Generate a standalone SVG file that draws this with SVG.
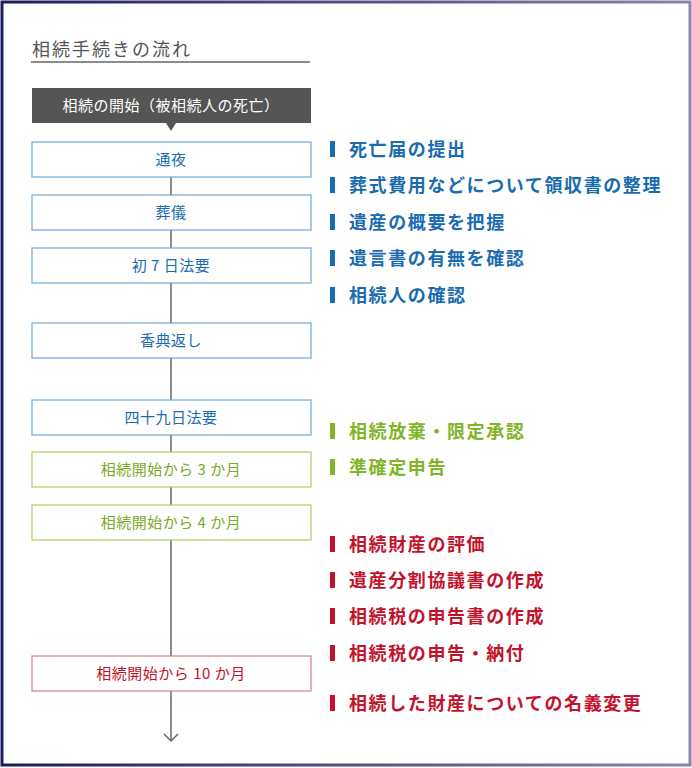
<svg xmlns="http://www.w3.org/2000/svg" width="692" height="768" viewBox="0 0 692 768">
<defs>
<linearGradient id="fr" x1="0" y1="0" x2="1" y2="0"><stop offset="0" stop-color="#1b1b5e"/><stop offset="1" stop-color="#8c83ab"/></linearGradient>
<style>
text{font-family:"Noto Sans CJK JP","Noto Sans",sans-serif;}
.bt{font-size:15px;text-anchor:middle;letter-spacing:0.5px;}
.b rect{fill:#fff;stroke-width:1.2;}
.bl rect{stroke:#6ea8dc}.bl text{fill:#1a6bb0}
.gr rect{stroke:#a9d05e}.gr text{fill:#7aaa26}
.rd rect{stroke:#e27a87}.rd text{fill:#c3122c}
.it{font-size:18px;font-weight:bold;letter-spacing:1.6px;}
.ib text{fill:#1a6bb0}.ib rect{fill:#1a6bb0}
.ig text{fill:#7fb526}.ig rect{fill:#7fb526}
.ir text{fill:#c3122c}.ir rect{fill:#c3122c}
</style>
</defs>
<rect x="0" y="0" width="692" height="768" fill="#fff"/>
<rect x="2" y="2" width="688" height="763" fill="none" stroke="url(#fr)" stroke-width="3"/>
<text x="32" y="56" font-size="18" letter-spacing="2" fill="#555">相続手続きの流れ</text>
<line x1="31" y1="62" x2="310" y2="62" stroke="#666" stroke-width="1.5"/>
<g id="connectors">
<line x1="171" y1="177" x2="171" y2="741" stroke="#666" stroke-width="1.5"/>
<polyline points="164,734 171,741 178,734" fill="none" stroke="#666" stroke-width="1.5"/>
</g>
<g id="start"><rect x="32" y="88" width="279" height="35" fill="#555"/><polygon points="166,123 176,123 171,131" fill="#555"/><text class="bt" x="171" y="111" fill="#fff">相続の開始（被相続人の死亡）</text></g>
<g id="n1" class="b bl"><rect x="32" y="142" width="279" height="35"/><text class="bt" x="171" y="165">通夜</text></g>
<g id="n2" class="b bl"><rect x="32" y="195" width="279" height="35"/><text class="bt" x="171" y="218">葬儀</text></g>
<g id="n3" class="b bl"><rect x="32" y="248" width="279" height="35"/><text class="bt" x="171" y="271">初 7 日法要</text></g>
<g id="n4" class="b bl"><rect x="32" y="323" width="279" height="35"/><text class="bt" x="171" y="346">香典返し</text></g>
<g id="n5" class="b bl"><rect x="32" y="400" width="279" height="35"/><text class="bt" x="171" y="423">四十九日法要</text></g>
<g id="n6" class="b gr"><rect x="32" y="452" width="279" height="35"/><text class="bt" x="171" y="475">相続開始から 3 か月</text></g>
<g id="n7" class="b gr"><rect x="32" y="505" width="279" height="35"/><text class="bt" x="171" y="528">相続開始から 4 か月</text></g>
<g id="n8" class="b rd"><rect x="32" y="656" width="279" height="35"/><text class="bt" x="171" y="679">相続開始から 10 か月</text></g>
<g id="items-blue" class="ib">
<rect x="330" y="141" width="5" height="16"/><text class="it" x="349" y="156">死亡届の提出</text>
<rect x="330" y="177" width="5" height="16"/><text class="it" x="349" y="192">葬式費用などについて領収書の整理</text>
<rect x="330" y="214" width="5" height="16"/><text class="it" x="349" y="229">遺産の概要を把握</text>
<rect x="330" y="250" width="5" height="16"/><text class="it" x="349" y="265">遺言書の有無を確認</text>
<rect x="330" y="287" width="5" height="16"/><text class="it" x="349" y="302">相続人の確認</text>
</g>
<g id="items-green" class="ig">
<rect x="330" y="423" width="5" height="16"/><text class="it" x="349" y="438">相続放棄・限定承認</text>
<rect x="330" y="459" width="5" height="16"/><text class="it" x="349" y="474">準確定申告</text>
</g>
<g id="items-red" class="ir">
<rect x="330" y="536" width="5" height="16"/><text class="it" x="349" y="551">相続財産の評価</text>
<rect x="330" y="572" width="5" height="16"/><text class="it" x="349" y="587">遺産分割協議書の作成</text>
<rect x="330" y="608" width="5" height="16"/><text class="it" x="349" y="623">相続税の申告書の作成</text>
<rect x="330" y="645" width="5" height="16"/><text class="it" x="349" y="660">相続税の申告・納付</text>
<rect x="330" y="695" width="5" height="16"/><text class="it" x="349" y="710">相続した財産についての名義変更</text>
</g>
</svg>
